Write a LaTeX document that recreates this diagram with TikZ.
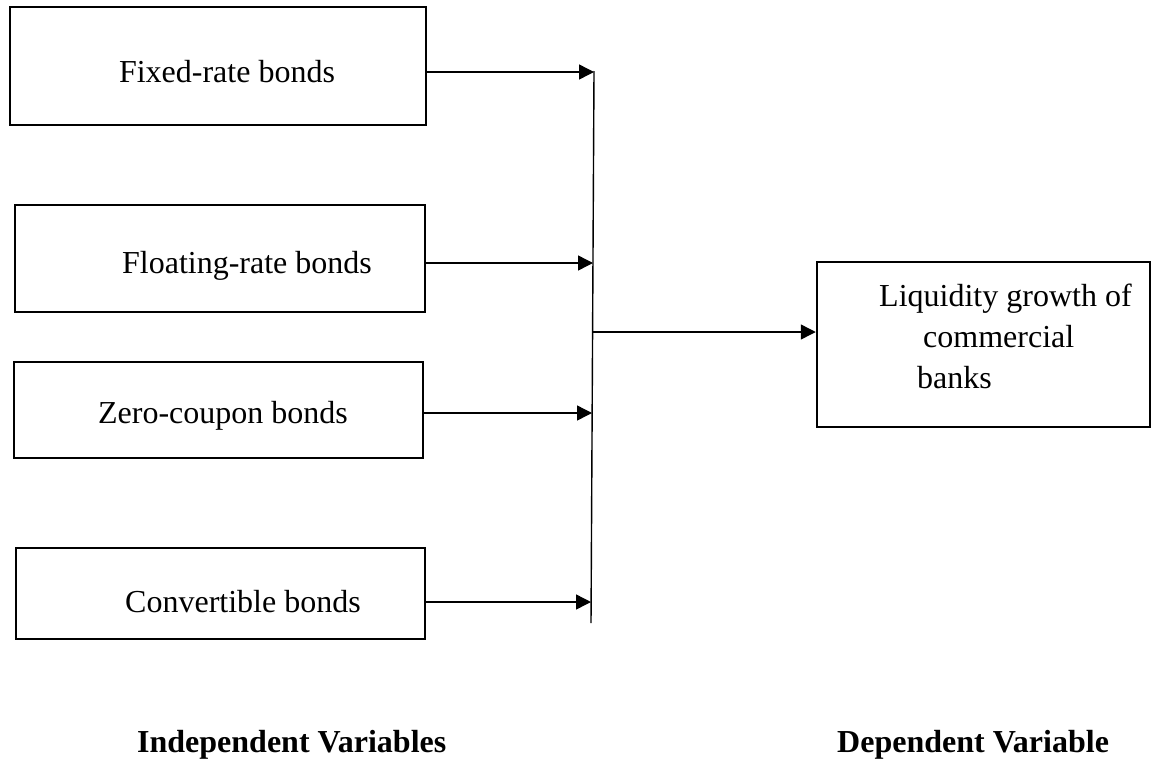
\documentclass[tikz,border=0pt]{standalone}
\usepackage{fontspec}
\setmainfont{Liberation Serif}
\usetikzlibrary{arrows.meta}
\begin{document}
\begin{tikzpicture}[x=1pt,y=-1pt,
  font=\fontsize{32}{38}\selectfont,
  box/.style={draw, line width=2.5pt, inner sep=0pt},
  conn/.style={line width=1.4pt, -{Triangle[length=15pt,width=15pt]}},
  bus/.style={line width=1.4pt},
  txt/.style={anchor=base, inner sep=0pt},
  ltxt/.style={anchor=base west, inner sep=0pt}]
\path[use as bounding box] (0,0) rectangle (1155,763);
% independent variable boxes
\node[box, minimum width=416pt, minimum height=118pt] (b1) at (218,66) {};
\node[box, minimum width=410pt, minimum height=107pt] (b2) at (220,258.5) {};
\node[box, minimum width=409pt, minimum height=96pt] (b3) at (218.5,410) {};
\node[box, minimum width=409pt, minimum height=91pt] (b4) at (220.5,593.5) {};
\node[txt] (t1) at (227,82) {Fixed-rate bonds};
\node[txt] (t2) at (247,273) {Floating-rate bonds};
\node[txt] (t3) at (223,423) {Zero-coupon bonds};
\node[txt] (t4) at (243,612) {Convertible bonds};
% dependent variable box
\node[box, minimum width=333pt, minimum height=165pt] (r) at (983.5,344.5) {};
\node[ltxt] (r1) at (879,306) {Liquidity growth of};
\node[ltxt] (r2) at (923,347) {commercial};
\node[ltxt] (r3) at (917,388) {banks};
% bus line
\coordinate (vt) at (594,71);
\coordinate (vb) at (591,623);
\coordinate (a1) at (594,72);
\coordinate (a2) at (593,263);
\coordinate (a3) at (592,413);
\coordinate (a4) at (591,602);
\coordinate (j) at (593,332);
\draw[bus] (vt) -- (vb);
\draw[conn] (b1.east |- a1) -- (a1);
\draw[conn] (b2.east |- a2) -- (a2);
\draw[conn] (b3.east |- a3) -- (a3);
\draw[conn] (b4.east |- a4) -- (a4);
\draw[conn] (j) -- (r.west |- j);
% captions
\node[ltxt, font=\fontsize{32}{38}\selectfont\bfseries] (iv) at (137,752) {Independent Variables};
\node[ltxt, font=\fontsize{32}{38}\selectfont\bfseries] (dv) at (837,752) {Dependent Variable};
\end{tikzpicture}
\end{document}
